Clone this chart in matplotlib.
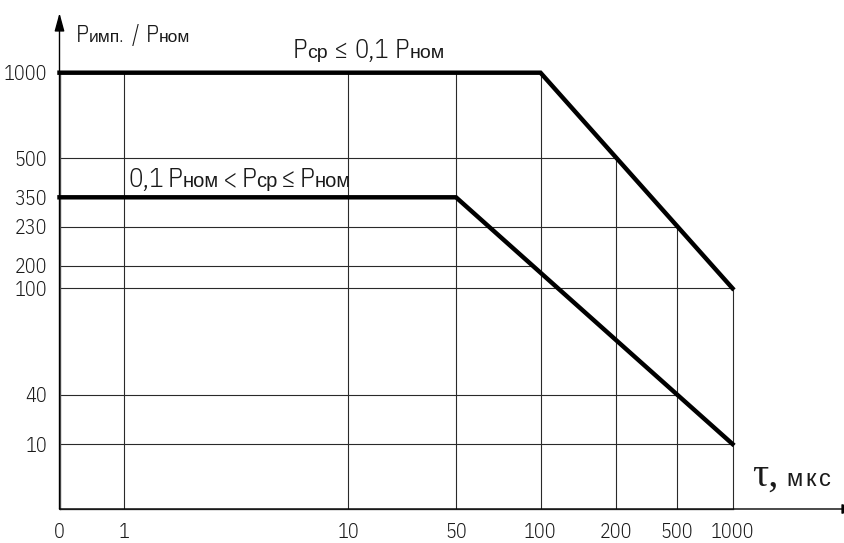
"""
plot.py
Pulse power ratio vs pulse duration (schematic chart), saved as out.png.
"""
import numpy as np
import matplotlib.pyplot as plt

# x axis: pulse duration tau, mks
tau_ticks = [0, 1, 10, 50, 100, 200, 500, 1000]
tau_labels = ["0", "1", "10", "50", "100", "200", "500", "1000"]

# y axis: P_imp / P_nom
ratio_ticks = [10, 40, 100, 200, 230, 350, 500, 1000]
ratio_labels = ["10", "40", "100", "200", "230", "350", "500", "1000"]

# curve for P_cp <= 0.1 P_nom
upper_tau = [0, 100, 1000]
upper_ratio = [1000, 1000, 100]

# curve for 0.1 P_nom < P_cp <= P_nom
lower_tau = [0, 50, 1000]
lower_ratio = [350, 350, 10]

# grid lines, each stops at one of the curves
vgrid_tau = [1, 10, 50, 100, 200, 500, 1000]
hgrid_upper = [500, 230, 100]
hgrid_lower = [200, 40, 10]

W, H = 844, 543

# the drawing uses an uneven scale: pixel place of every tick value
x_scale_vals = [0, 1, 10, 50, 100, 200, 500, 1000]
x_scale_pix = [59.5, 124.3, 348.3, 456, 540.5, 616, 676.7, 732.5]
y_scale_vals = [0, 10, 40, 100, 200, 230, 350, 500, 1000]
y_scale_pix = [-509, -444, -395, -288.3, -265.7, -226.7, -197.3, -158.3, -72.7]


def fwd_x(v):
    return np.interp(v, x_scale_vals, x_scale_pix)


def inv_x(p):
    return np.interp(p, x_scale_pix, x_scale_vals)


def fwd_y(v):
    return np.interp(v, y_scale_vals, y_scale_pix)


def inv_y(p):
    return np.interp(p, y_scale_pix, y_scale_vals)


def tau_on_curve(curve_tau, curve_ratio, ratio):
    """tau where a curve reaches the given ratio (on the drawn scale)."""
    fx = fwd_x(np.array(curve_tau, dtype=float))
    fy = fwd_y(np.array(curve_ratio, dtype=float))
    return float(inv_x(np.interp(fwd_y(ratio), fy[::-1], fx[::-1])))


def ratio_on_curve(curve_tau, curve_ratio, tau):
    fx = fwd_x(np.array(curve_tau, dtype=float))
    fy = fwd_y(np.array(curve_ratio, dtype=float))
    return float(inv_y(np.interp(fwd_x(tau), fx, fy)))


NARROW = ["IBM Plex Sans Condensed", "Liberation Sans", "DejaVu Sans"]
plt.rcParams["font.family"] = NARROW
plt.rcParams["font.weight"] = 300
TEXT = "#1a1a1a"

fig = plt.figure(figsize=(W / 100, H / 100), dpi=100)
ax = fig.add_axes([59.5 / W, (H - 509) / H, (732.5 - 59.5) / W, (509 - 72.7) / H])
ax.set_xscale("function", functions=(fwd_x, inv_x))
ax.set_yscale("function", functions=(fwd_y, inv_y))
ax.set_xlim(0, 1000)
ax.set_ylim(0, 1000)

for s in ax.spines.values():
    s.set_visible(False)

# grid
grid_kw = dict(color="#2a2a2a", linewidth=0.8, zorder=1, clip_on=False)
for t in vgrid_tau:
    ax.vlines(t, 0, ratio_on_curve(upper_tau, upper_ratio, t), **grid_kw)
for r in hgrid_upper:
    ax.hlines(r, 0, tau_on_curve(upper_tau, upper_ratio, r), **grid_kw)
for r in hgrid_lower:
    ax.hlines(r, 0, tau_on_curve(lower_tau, lower_ratio, r), **grid_kw)

# curves
ax.plot(upper_tau, upper_ratio, color="black", linewidth=3.2, zorder=3,
        solid_joinstyle="miter", clip_on=False)
ax.plot(lower_tau, lower_ratio, color="black", linewidth=3.2, zorder=3,
        solid_joinstyle="miter", clip_on=False)

ax.set_xticks(tau_ticks)
ax.set_xticklabels(tau_labels)
ax.set_yticks(ratio_ticks)
ax.set_yticklabels(ratio_labels)
ax.minorticks_off()
ax.tick_params(axis="x", length=0, pad=10, labelsize=14.5, labelcolor=TEXT)
ax.tick_params(axis="y", length=0, pad=9, labelsize=14.5, labelcolor=TEXT)

# axes with arrows (figure pixels)
arrow_kw = dict(arrowstyle="-|>,head_length=1.1,head_width=0.3",
                color="black", lw=1.0, shrinkA=0, shrinkB=0,
                mutation_scale=10)
ax.annotate("", xy=(59.5, H - 13), xytext=(59.5, H - 509),
            xycoords="figure pixels", textcoords="figure pixels",
            arrowprops=arrow_kw)
ax.annotate("", xy=(860, H - 509), xytext=(59.5, H - 509),
            xycoords="figure pixels", textcoords="figure pixels",
            arrowprops=arrow_kw)
ax.plot([0, 1000], [0, 0], color="#555555", lw=1.0, clip_on=False, zorder=2)
ax.plot([0, 0], [0, 1000], color="#555555", lw=1.0, clip_on=False, zorder=2)


def draw_runs(x, y, runs, family=None):
    """Put text pieces one after another, x/y in pixels from top-left."""
    renderer = fig.canvas.get_renderer()
    for s, size, gap in runs:
        kw = {}
        if family:
            kw["family"] = family
        t = fig.text(x / W, (H - y) / H, s, fontsize=size, color=TEXT,
                     ha="left", va="baseline", **kw)
        x += t.get_window_extent(renderer).width + gap


draw_runs(76, 42, [("P", 17, 0), ("имп.", 12.5, 8), ("/", 17, 6),
                   ("P", 17, 0), ("ном", 12.5, 0)])
draw_runs(293, 58, [("P", 19, 0), ("ср", 14, 6), ("≤", 19, 6),
                    ("0,1", 19, 6), ("P", 19, 0), ("ном", 14, 0)])
draw_runs(128, 187, [("0,1", 19.5, 4), ("P", 19.5, 0), ("ном", 14.5, 4),
                     ("<", 19.5, 4), ("P", 19.5, 0), ("ср", 14.5, 4),
                     ("≤", 19.5, 4), ("P", 19.5, 0), ("ном", 14.5, 0)])
draw_runs(752, 486, [("τ,", 29, 10)], family=["Liberation Serif", "DejaVu Serif"])
draw_runs(786, 486, [("м", 17, 3), ("к", 17, 3), ("с", 17, 0)])

fig.savefig("out.png", dpi=100)
plt.close(fig)
print("Saved chart: out.png")
